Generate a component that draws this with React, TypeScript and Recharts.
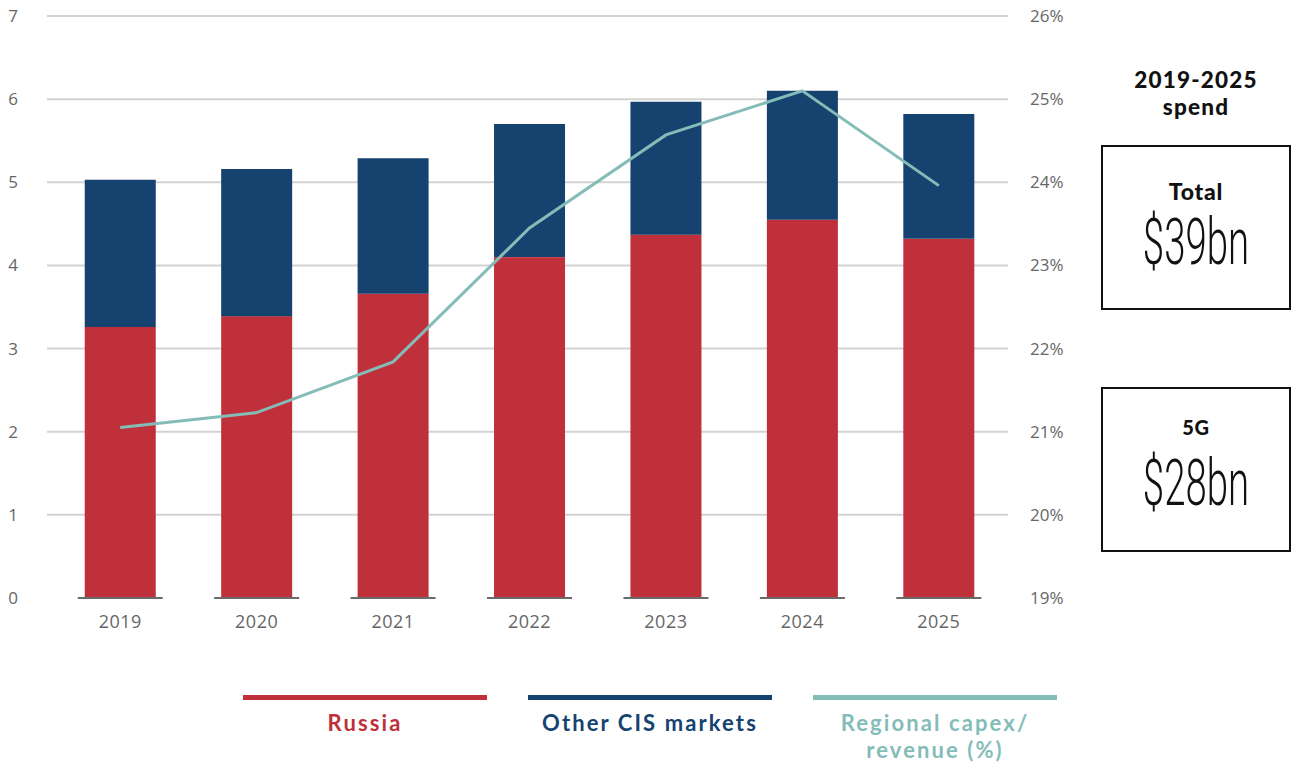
import { Bar, CartesianGrid, ComposedChart, Line, XAxis, YAxis } from "recharts";

const years = ["2019", "2020", "2021", "2022", "2023", "2024", "2025"];
const russia = [3.26, 3.39, 3.66, 4.1, 4.37, 4.55, 4.32];
const otherCis = [1.77, 1.77, 1.63, 1.6, 1.6, 1.55, 1.5];
const capexRatio = [21.05, 21.23, 21.84, 23.45, 24.57, 25.1, 23.96];
const leftTicks = [0, 1, 2, 3, 4, 5, 6, 7];
const rightTicks = [19, 20, 21, 22, 23, 24, 25, 26];

const legendItems = [
  { label: ["Russia"], color: "#c0303a" },
  { label: ["Other CIS markets"], color: "#15426f" },
  { label: ["Regional capex/", "revenue (%)"], color: "#84bcb8" }
];

const spendBoxes = [
  { title: "Total", value: "$39bn" },
  { title: "5G", value: "$28bn" }
];

const data = years.map((year, i) => ({
  year,
  russia: russia[i],
  other: otherCis[i],
  ratio: capexRatio[i]
}));

const font = "'Open Sans', 'Noto Sans', sans-serif";
const boldFont = "Lato, 'Open Sans', sans-serif";

function RussiaShape(props: any) {
  const { x, y, width, height, fill } = props;
  return (
    <g>
      <rect x={x} y={y} width={width} height={height} fill={fill} />
      <line x1={x - 7} x2={x + width + 7} y1={y + height} y2={y + height} stroke="#6b6b6b" strokeWidth={2} />
    </g>
  );
}

export default function App() {
  return (
    <div style={{ position: "absolute", left: 0, top: 0, width: 1293, height: 765, background: "#fff", fontFamily: font }}>
      <ComposedChart
        width={1293}
        height={765}
        data={data}
        barCategoryGap="24%"
        margin={{ top: 16, right: 225, bottom: 127, left: 0 }}
      >
        <CartesianGrid
          yAxisId="left"
          vertical={false}
          stroke="#d3d3d3"
          strokeWidth={2}
          horizontalValues={leftTicks.filter((t) => t > 0)}
        />
        <XAxis
          dataKey="year"
          axisLine={false}
          tickLine={false}
          tickSize={0}
          tickMargin={17}
          height={40}
          padding={{ left: 5, right: 1 }}
          tick={{ fill: "#666", fontSize: 18, fontFamily: font, letterSpacing: 0.5 }}
        />
        <YAxis
          yAxisId="left"
          domain={[0, 7]}
          ticks={leftTicks}
          width={47}
          axisLine={false}
          tickLine={false}
          tickSize={0}
          tickMargin={29}
          tick={{ fill: "#666", fontSize: 17, fontFamily: font }}
        />
        <YAxis
          yAxisId="right"
          orientation="right"
          domain={[19, 26]}
          ticks={rightTicks}
          width={60}
          axisLine={false}
          tickLine={false}
          tickSize={0}
          tickMargin={22}
          tickFormatter={(v) => `${v}%`}
          tick={{ fill: "#666", fontSize: 17, fontFamily: font, textAnchor: "start" }}
        />
        <Bar yAxisId="left" dataKey="russia" stackId="a" fill="#c0303a" shape={RussiaShape} isAnimationActive={false} />
        <Bar yAxisId="left" dataKey="other" stackId="a" fill="#15426f" isAnimationActive={false} />
        <Line
          yAxisId="right"
          type="linear"
          dataKey="ratio"
          stroke="#84bcb8"
          strokeWidth={3}
          dot={false}
          activeDot={false}
          isAnimationActive={false}
        />
      </ComposedChart>

      <div style={{ position: "absolute", left: 243, top: 695, display: "flex", gap: 41 }}>
        {legendItems.map((item) => (
          <div key={item.color} style={{ width: 244, textAlign: "center" }}>
            <div style={{ height: 5, background: item.color }} />
            <div
              style={{
                marginTop: 10,
                color: item.color,
                fontFamily: boldFont,
                fontSize: 22,
                fontWeight: 700,
                lineHeight: "26.5px",
                letterSpacing: 2.1,
                whiteSpace: "nowrap"
              }}
            >
              {item.label.map((l) => (
                <div key={l}>{l}</div>
              ))}
            </div>
          </div>
        ))}
      </div>

      <div
        style={{
          position: "absolute",
          left: 1101,
          top: 66,
          width: 190,
          textAlign: "center",
          fontFamily: boldFont,
          fontSize: 22.5,
          fontWeight: 900,
          lineHeight: "27px",
          letterSpacing: 1.2,
          color: "#111"
        }}
      >
        <div>2019-2025</div>
        <div>spend</div>
      </div>

      {spendBoxes.map((box, i) => (
        <div
          key={box.title}
          style={{
            position: "absolute",
            left: 1101,
            top: 145 + i * 242,
            width: 186,
            height: 161,
            border: "2px solid #111",
            textAlign: "center",
            color: "#111"
          }}
        >
          <div
            style={{
              marginTop: i === 0 ? 30 : 24,
              fontFamily: boldFont,
              fontSize: i === 0 ? 23 : 20,
              fontWeight: 900,
              lineHeight: "28px",
              letterSpacing: 0.8
            }}
          >
            {box.title}
          </div>
          <div
            style={{
              marginTop: i === 0 ? 0 : 5,
              fontFamily: "Roboto, sans-serif",
              fontSize: 64,
              fontWeight: 300,
              lineHeight: "75px",
              transform: "scaleX(0.6)",
              whiteSpace: "nowrap"
            }}
          >
            {box.value}
          </div>
        </div>
      ))}
    </div>
  );
}
